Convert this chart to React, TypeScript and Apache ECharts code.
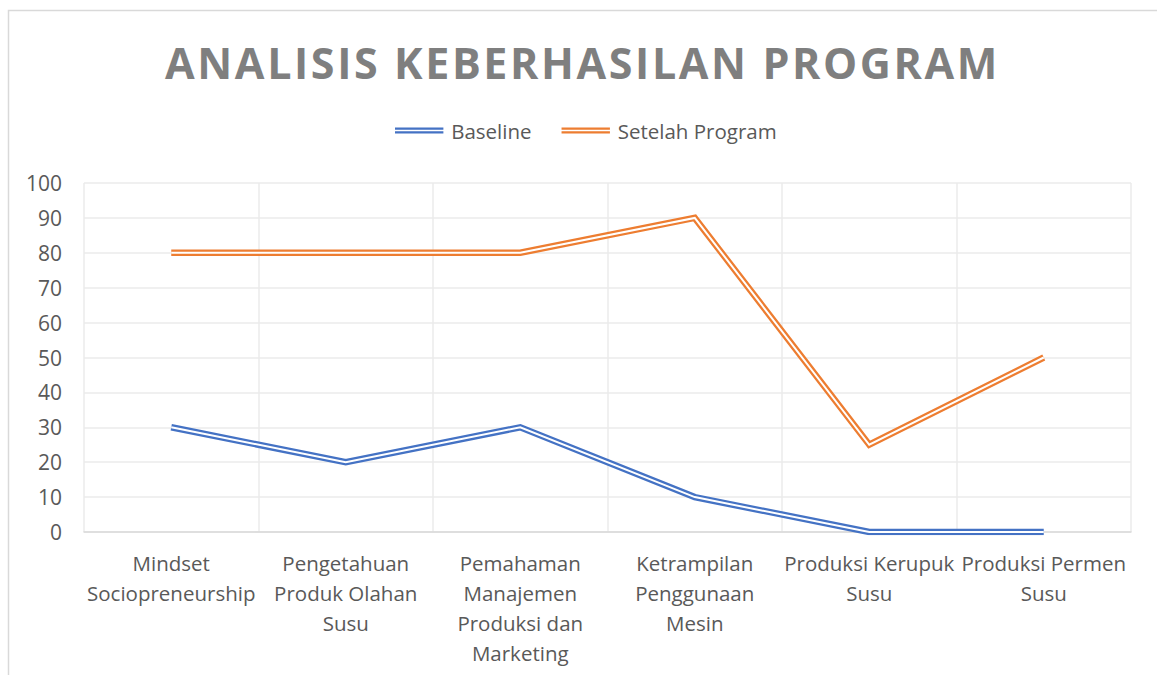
import React, { useEffect, useRef } from "react";
import * as echarts from "echarts";

const TITLE = "ANALISIS KEBERHASILAN PROGRAM";
const categories = [
  "Mindset\nSociopreneurship",
  "Pengetahuan\nProduk Olahan\nSusu",
  "Pemahaman\nManajemen\nProduksi dan\nMarketing",
  "Ketrampilan\nPenggunaan\nMesin",
  "Produksi Kerupuk\nSusu",
  "Produksi Permen\nSusu",
];
const baseline = [30, 20, 30, 10, 0, 0];
const setelahProgram = [80, 80, 80, 90, 25, 50];
const seriesNames = ["Baseline", "Setelah Program"];
const colors = ["#4472C4", "#ED7D31"];

const FONT = "'Open Sans', 'Noto Sans', sans-serif";

export default function App() {
  const ref = useRef<HTMLDivElement>(null);
  useEffect(() => {
    if (!ref.current) return;
    const chart = echarts.init(ref.current, null, { renderer: "svg" });
    const datasets = [baseline, setelahProgram];
    const series: any[] = [];
    datasets.forEach((d, i) => {
      series.push({
        name: seriesNames[i],
        type: "line",
        data: d,
        symbol: "none",
        lineStyle: { color: colors[i], width: 6.5, join: "miter" },
        itemStyle: { color: colors[i] },
        z: 2 + i * 2,
      });
      series.push({
        name: seriesNames[i] + "-inner",
        type: "line",
        data: d,
        symbol: "none",
        lineStyle: { color: "#ffffff", width: 2, join: "miter" },
        itemStyle: { color: "#ffffff" },
        z: 3 + i * 2,
        silent: true,
      });
    });
    chart.setOption({
      animation: false,
      backgroundColor: "#ffffff",
      title: {
        text: TITLE,
        left: "center",
        top: 36,
        textStyle: {
          fontFamily: FONT,
          fontSize: 43,
          fontWeight: "bold",
          color: "#7F7F7F",
        },
      },
      legend: {
        data: seriesNames,
        top: 115,
        left: 390,
        itemWidth: 50,
        itemHeight: 6,
        itemGap: 30,
        icon: "path://M0,0H50V2.2H0Z M0,4H50V6.2H0Z",
        textStyle: { fontFamily: FONT, fontSize: 20.5, color: "#595959", padding: [0, 0, 0, 2] },
      },
      grid: { left: 84, right: 26, top: 183, bottom: 143, containLabel: false },
      xAxis: {
        type: "category",
        data: categories,
        boundaryGap: true,
        axisLine: { lineStyle: { color: "#D9D9D9", width: 1.5 } },
        axisTick: { show: false },
        splitLine: { show: true, lineStyle: { color: "#EBEBEB", width: 1.5 } },
        axisLabel: {
          fontFamily: FONT,
          fontSize: 20.5,
          color: "#595959",
          lineHeight: 30,
          margin: 16,
          interval: 0,
        },
      },
      yAxis: {
        type: "value",
        min: 0,
        max: 100,
        interval: 10,
        axisLine: { show: false },
        axisTick: { show: false },
        splitLine: { lineStyle: { color: "#EBEBEB", width: 1.5 } },
        axisLabel: {
          fontFamily: FONT,
          fontSize: 21,
          color: "#595959",
          margin: 22,
        },
      },
      graphic: [
        {
          type: "rect",
          shape: { x: 8.5, y: 10.5, width: 1300, height: 800 },
          style: { fill: "none", stroke: "#D9D9D9", lineWidth: 1.5 },
          silent: true,
          z: -10,
        },
      ],
      series,
    });

    // Title letter spacing (Excel-style spaced title)
    const root = ref.current;
    const texts = Array.from(root.querySelectorAll("text")) as SVGTextElement[];
    const t = texts.find((el) => el.textContent === TITLE);
    if (t) {
      t.style.letterSpacing = "2.6px";
      const cRect = root.getBoundingClientRect();
      const r = t.getBoundingClientRect();
      const center = r.left - cRect.left + r.width / 2;
      const dx = 582.5 - center;
      const x0 = Number(t.getAttribute("x") || 0);
      t.setAttribute("x", String(x0 + dx));
    }
    return () => chart.dispose();
  }, []);
  return (
    <div
      ref={ref}
      style={{ position: "absolute", left: 0, top: 0, width: 1157, height: 675 }}
    />
  );
}
